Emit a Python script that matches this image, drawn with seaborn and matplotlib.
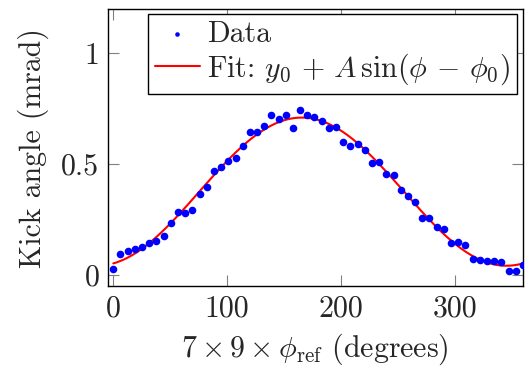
import numpy as np
import pandas as pd
import matplotlib
matplotlib.use("Agg")
import matplotlib.pyplot as plt
import seaborn as sns

# data
phase_deg = [0.0, 6.3, 12.6, 18.9, 25.3, 31.6, 37.9, 44.2, 50.5, 56.8,
             63.2, 69.5, 75.8, 82.1, 88.4, 94.7, 101.1, 107.4, 113.7, 120.0,
             126.3, 132.6, 138.9, 145.3, 151.6, 157.9, 164.2, 170.5, 176.8, 183.2,
             189.5, 195.8, 202.1, 208.4, 214.7, 221.1, 227.4, 233.7, 240.0, 246.3,
             252.6, 258.9, 265.3, 271.6, 277.9, 284.2, 290.5, 296.8, 303.2, 309.5,
             315.8, 322.1, 328.4, 334.7, 341.1, 347.4, 353.7, 360.0]
kick_mrad = [0.030, 0.094, 0.107, 0.120, 0.125, 0.147, 0.156, 0.177, 0.234, 0.284,
             0.282, 0.294, 0.365, 0.396, 0.471, 0.486, 0.515, 0.528, 0.581, 0.647,
             0.647, 0.674, 0.721, 0.704, 0.724, 0.665, 0.743, 0.721, 0.715, 0.697,
             0.664, 0.667, 0.602, 0.581, 0.592, 0.563, 0.506, 0.508, 0.458, 0.452,
             0.386, 0.359, 0.330, 0.258, 0.258, 0.219, 0.207, 0.147, 0.152, 0.138,
             0.075, 0.069, 0.063, 0.063, 0.060, 0.020, 0.021, 0.045]

x_ticks = [0, 100, 200, 300]
x_tick_labels = ["0", "100", "200", "300"]
y_ticks = [0, 0.5, 1]
y_tick_labels = ["0", "0.5", "1"]

df = pd.DataFrame({"phi": phase_deg, "kick": kick_mrad})

# least squares fit y0 + A sin(phi - phi0)
ph = np.radians(df["phi"].values)
M = np.column_stack([np.ones_like(ph), np.sin(ph), np.cos(ph)])
coef, *_ = np.linalg.lstsq(M, df["kick"].values, rcond=None)
fit_x = np.linspace(0, 360, 361)
fr = np.radians(fit_x)
fit = pd.DataFrame({"phi": fit_x,
                    "kick": coef[0] + coef[1] * np.sin(fr) + coef[2] * np.cos(fr)})

sns.set_style("ticks")
plt.rcParams["font.family"] = "serif"
plt.rcParams["font.serif"] = ["cmr10", "DejaVu Serif"]
plt.rcParams["mathtext.fontset"] = "cm"
plt.rcParams["axes.formatter.use_mathtext"] = True
fs = 21.5
plt.rcParams["font.size"] = fs

fig = plt.figure(figsize=(5.25, 3.69), dpi=100)
ax = fig.add_axes([0.205, 0.224, 0.791, 0.752])

sns.scatterplot(data=df, x="phi", y="kick", ax=ax, color="#0000ff", s=30,
                linewidth=0, label="Data", zorder=3)
sns.lineplot(data=fit, x="phi", y="kick", ax=ax, color="#ff0000", linewidth=1.5,
             label=r"Fit: $y_0\,+\,A\,\sin(\phi\,-\,\phi_0)$", zorder=2)

ax.set_xlim(-5, 360)
ax.set_ylim(-0.05, 1.2)
ax.set_xticks(x_ticks)
ax.set_xticklabels(x_tick_labels)
ax.set_yticks(y_ticks)
ax.set_yticklabels(y_tick_labels)
ax.tick_params(direction="in", length=8, width=0.8, color="0.5",
               top=True, right=True, labelsize=fs, pad=6)
for sp in ax.spines.values():
    sp.set_linewidth(1.0)
    sp.set_color("black")

ax.set_xlabel(r"$7\times 9\times \phi_{\mathrm{ref}}$ (degrees)", fontsize=fs, labelpad=7)
ax.set_ylabel("Kick angle (mrad)", fontsize=fs, labelpad=9)

leg = ax.legend(loc="upper right", bbox_to_anchor=(0.985, 0.981), borderaxespad=0,
                fancybox=False, edgecolor="black", framealpha=1, fontsize=fs,
                handlelength=1.5, handletextpad=0.25, borderpad=0.22,
                labelspacing=0.12, markerscale=0.6)
leg.get_frame().set_linewidth(1.0)

fig.savefig("out.png", dpi=100)
